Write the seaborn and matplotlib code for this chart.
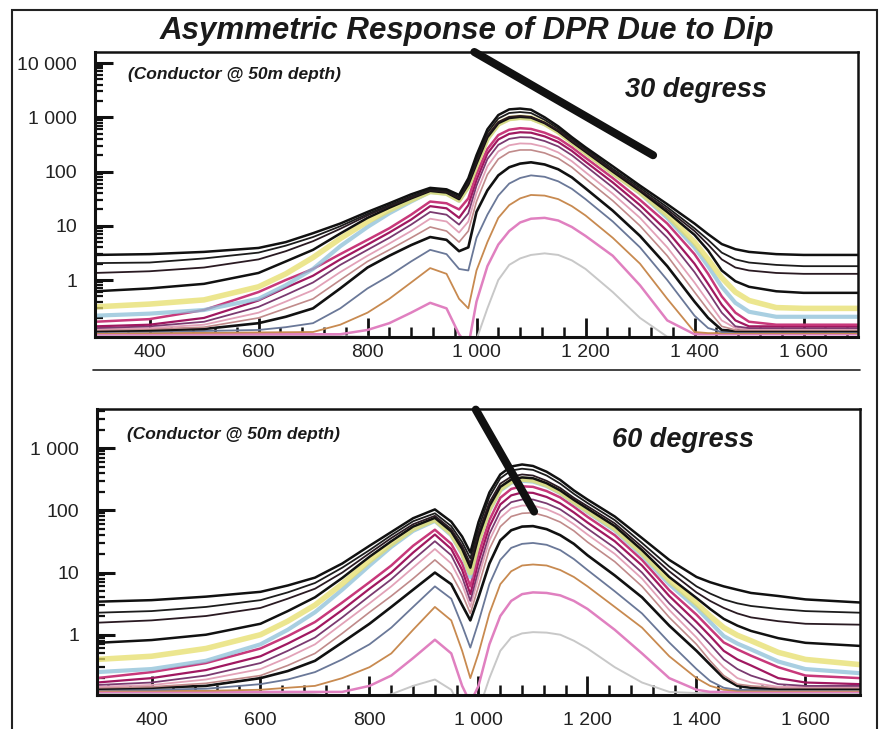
import numpy as np
import pandas as pd
import matplotlib
matplotlib.use("Agg")
import matplotlib.pyplot as plt
import seaborn as sns
from matplotlib.ticker import FixedLocator, LogLocator, MultipleLocator, FuncFormatter, NullFormatter
from matplotlib.lines import Line2D
from matplotlib.patches import Rectangle

# ---------------- data ----------------
TITLE = "Asymmetric Response of DPR Due to Dip"
NOTE = "(Conductor @ 50m depth)"
LABEL30 = "30 degress"
LABEL60 = "60 degress"

X30 = [300, 400, 500, 600, 650, 700, 750, 800, 840, 880,
       915, 945, 968, 985, 1000, 1020, 1040, 1060, 1080, 1100,
       1125, 1150, 1175, 1200, 1250, 1300, 1350, 1400, 1425, 1450,
       1475, 1500, 1550, 1600, 1700]

D30_01 = [2.9, 3.0, 3.3, 3.9, 5.0, 7.3, 11, 18, 26, 38, 50, 47, 37, 75, 200, 600, 1100, 1400, 1450, 1380, 1000, 680, 430, 280, 125, 55, 25, 11, 7.0, 4.6, 3.7, 3.3, 3.0, 2.9, 2.9]
D30_02 = [2.05, 2.1, 2.5, 3.2, 4.3, 6.2, 9.8, 16.5, 24, 35, 47, 44, 34, 68, 170, 520, 950, 1200, 1250, 1200, 900, 620, 395, 260, 112, 50, 22, 9.0, 5.5, 3.2, 2.4, 2.1, 1.9, 1.8, 1.8]
D30_03 = [1.35, 1.45, 1.7, 2.4, 3.4, 5.2, 8.8, 15.5, 23, 33, 45, 42, 32, 62, 150, 460, 820, 1020, 1060, 1020, 800, 570, 365, 242, 104, 46, 20, 8.0, 4.5, 2.4, 1.7, 1.5, 1.35, 1.3, 1.3]
D30_04 = [0.62, 0.7, 0.85, 1.35, 2.2, 3.6, 7.2, 14, 21.5, 32, 44, 41, 31, 58, 140, 430, 780, 970, 1020, 990, 785, 555, 355, 233, 100, 44, 18, 6.8, 3.5, 1.5, 0.95, 0.75, 0.62, 0.58, 0.58]
D30_05 = [0.32, 0.36, 0.43, 0.75, 1.3, 2.6, 5.8, 12, 19.5, 30, 43, 40, 30, 55, 135, 415, 760, 950, 1000, 970, 770, 545, 350, 226, 96, 42, 16, 5.0, 2.4, 1.1, 0.6, 0.42, 0.31, 0.3, 0.3]
D30_06 = [0.22, 0.24, 0.28, 0.45, 0.8, 1.6, 4.2, 9.5, 17, 28, 42, 39, 29, 52, 130, 400, 740, 930, 980, 950, 755, 535, 343, 220, 93, 40, 14, 4.0, 1.8, 0.75, 0.38, 0.26, 0.21, 0.21, 0.21]
D30_07 = [0.17, 0.19, 0.28, 0.6, 1.0, 1.6, 3.0, 5.5, 9.0, 16, 28, 26, 20, 32, 90, 260, 470, 590, 630, 610, 520, 410, 280, 180, 76, 30, 11, 3.0, 1.3, 0.5, 0.25, 0.17, 0.15, 0.15, 0.15]
D30_08 = [0.14, 0.15, 0.2, 0.42, 0.72, 1.2, 2.4, 4.5, 7.5, 13, 23, 21, 14, 24, 70, 215, 390, 495, 530, 520, 445, 350, 240, 152, 63, 24, 8.0, 2.0, 0.85, 0.35, 0.18, 0.14, 0.14, 0.14, 0.14]
D30_09 = [0.13, 0.14, 0.17, 0.32, 0.53, 0.9, 1.9, 3.6, 6.0, 10.5, 18, 16, 10.5, 17, 55, 170, 310, 400, 430, 425, 365, 290, 200, 127, 51, 19, 6.0, 1.4, 0.6, 0.25, 0.14, 0.13, 0.13, 0.13, 0.13]
D30_10 = [0.125, 0.13, 0.15, 0.25, 0.4, 0.65, 1.4, 2.8, 4.7, 8.0, 13.5, 12, 7.5, 12, 40, 125, 235, 305, 330, 325, 285, 225, 155, 97, 39, 14, 4.0, 0.9, 0.4, 0.18, 0.13, 0.125, 0.125, 0.125, 0.125]
D30_11 = [0.12, 0.125, 0.135, 0.2, 0.3, 0.45, 1.0, 2.2, 3.6, 6.0, 9.5, 8.0, 5.0, 8.0, 28, 88, 170, 228, 250, 250, 220, 175, 120, 74, 29, 10, 2.8, 0.6, 0.28, 0.14, 0.12, 0.12, 0.12, 0.12, 0.12]
D30_12 = [0.115, 0.118, 0.125, 0.16, 0.21, 0.3, 0.7, 1.7, 2.8, 4.4, 6.2, 5.5, 3.4, 4.0, 18, 45, 85, 120, 140, 148, 135, 110, 78, 49, 19, 6.5, 1.8, 0.4, 0.2, 0.12, 0.115, 0.115, 0.115, 0.115, 0.115]
D30_13 = [0.11, 0.112, 0.115, 0.12, 0.135, 0.16, 0.3, 0.7, 1.2, 2.2, 3.6, 3.0, 1.6, 1.5, 6.0, 16, 36, 60, 76, 85, 80, 66, 48, 31, 12, 4.0, 1.0, 0.22, 0.13, 0.11, 0.11, 0.11, 0.11, 0.11, 0.11]
D30_14 = [0.105, 0.105, 0.106, 0.108, 0.109, 0.11, 0.15, 0.25, 0.45, 0.9, 1.66, 1.3, 0.45, 0.3, 1.5, 5.0, 14, 24, 32, 37, 36, 31, 23, 15.5, 6.0, 2.0, 0.45, 0.11, 0.105, 0.105, 0.105, 0.105, 0.105, 0.105, 0.105]
D30_15 = [0.1, 0.1, 0.1, 0.1, 0.1, 0.1, 0.1, 0.12, 0.16, 0.25, 0.38, 0.3, 0.1, 0.06, 0.4, 1.8, 4.5, 8.0, 11.5, 13.5, 14, 12.5, 9.5, 6.5, 2.8, 0.8, 0.18, 0.1, 0.1, 0.1, 0.1, 0.1, 0.1, 0.1, 0.1]
D30_16 = [0.095, 0.095, 0.095, 0.095, 0.095, 0.095, 0.092, 0.09, 0.085, 0.08, 0.07, 0.06, 0.04, 0.03, 0.08, 0.3, 1.0, 1.9, 2.5, 2.9, 3.1, 2.9, 2.3, 1.6, 0.6, 0.2, 0.09, 0.085, 0.085, 0.085, 0.085, 0.085, 0.085, 0.085, 0.085]

X60 = [300, 400, 500, 600, 650, 700, 750, 800, 840, 880,
       920, 950, 970, 985, 1000, 1020, 1040, 1060, 1080, 1100,
       1125, 1150, 1175, 1200, 1250, 1300, 1350, 1400, 1425, 1450,
       1475, 1500, 1550, 1600, 1700]

D60_01 = [3.4, 3.6, 4.1, 4.9, 6.2, 8.3, 14, 27, 45, 75, 104, 66, 38, 21, 65, 195, 380, 510, 550, 520, 420, 310, 210, 150, 80, 36, 16, 8.5, 7.0, 6.0, 5.3, 4.7, 4.2, 3.7, 3.3]
D60_02 = [2.26, 2.4, 2.8, 3.6, 4.8, 6.8, 12, 23, 40, 67, 90, 56, 31, 17, 52, 165, 330, 440, 470, 450, 365, 270, 185, 132, 70, 30, 12.5, 6.0, 4.6, 3.7, 3.2, 2.9, 2.6, 2.4, 2.26]
D60_03 = [1.56, 1.7, 2.0, 2.7, 3.8, 5.5, 10, 20.5, 36, 60, 82, 50, 27, 14, 44, 135, 270, 350, 380, 365, 300, 230, 160, 117, 62, 26, 10.5, 4.8, 3.5, 2.7, 2.2, 1.9, 1.65, 1.5, 1.45]
D60_04 = [0.74, 0.82, 1.0, 1.5, 2.4, 4.0, 8.2, 18, 32, 55, 76, 46, 24, 12, 38, 118, 240, 315, 340, 330, 275, 210, 148, 107, 56, 23, 8.5, 3.9, 2.6, 1.8, 1.4, 1.15, 0.88, 0.74, 0.66]
D60_05 = [0.40, 0.45, 0.6, 1.0, 1.65, 3.0, 6.6, 15.5, 29, 51, 72, 43, 22, 10, 34, 108, 225, 295, 320, 310, 260, 200, 140, 100, 52, 21, 7.5, 3.2, 2.0, 1.3, 0.98, 0.8, 0.52, 0.4, 0.33]
D60_06 = [0.25, 0.28, 0.38, 0.7, 1.2, 2.3, 5.3, 13, 26, 47, 68, 40, 20, 8.5, 31, 100, 210, 280, 300, 292, 248, 190, 133, 94, 48, 19, 6.5, 2.7, 1.6, 0.95, 0.72, 0.58, 0.37, 0.28, 0.24]
D60_07 = [0.2, 0.25, 0.35, 0.6, 0.95, 1.6, 3.3, 7.0, 13, 27, 49, 29, 14, 6.0, 20, 70, 160, 222, 245, 240, 205, 162, 115, 79, 40, 16, 5.2, 2.1, 1.25, 0.75, 0.58, 0.46, 0.3, 0.22, 0.2]
D60_08 = [0.17, 0.2, 0.27, 0.45, 0.72, 1.2, 2.5, 5.5, 10, 21, 41, 24, 11, 4.5, 15, 55, 125, 175, 195, 192, 165, 130, 93, 64, 32, 13, 4.2, 1.6, 0.95, 0.55, 0.4, 0.32, 0.2, 0.17, 0.16]
D60_09 = [0.155, 0.17, 0.22, 0.35, 0.55, 0.9, 1.9, 4.2, 7.8, 16, 32, 19, 8.5, 3.5, 11, 42, 97, 136, 150, 150, 130, 104, 74, 51, 25, 10, 3.2, 1.2, 0.7, 0.4, 0.28, 0.22, 0.16, 0.15, 0.15]
D60_10 = [0.145, 0.155, 0.19, 0.28, 0.43, 0.7, 1.5, 3.2, 6.0, 12, 24, 14, 6.5, 2.8, 8.5, 33, 76, 108, 120, 120, 105, 84, 60, 41, 20, 8.0, 2.5, 0.9, 0.5, 0.3, 0.2, 0.17, 0.145, 0.145, 0.145]
D60_11 = [0.14, 0.145, 0.165, 0.22, 0.32, 0.5, 1.05, 2.3, 4.2, 8.0, 16, 9.5, 4.5, 2.2, 6.0, 24, 55, 80, 90, 92, 80, 65, 47, 31, 15, 6.0, 1.9, 0.7, 0.38, 0.22, 0.16, 0.15, 0.14, 0.14, 0.14]
D60_12 = [0.135, 0.14, 0.15, 0.2, 0.26, 0.38, 0.75, 1.5, 2.8, 5.3, 10, 6.5, 3.0, 1.7, 4.0, 14, 33, 48, 55, 56, 50, 40, 29, 19, 9.0, 4.0, 1.4, 0.55, 0.33, 0.2, 0.15, 0.14, 0.135, 0.135, 0.135]
D60_13 = [0.13, 0.13, 0.135, 0.16, 0.19, 0.25, 0.4, 0.7, 1.3, 2.8, 6.0, 3.8, 1.4, 0.62, 1.6, 6.5, 16, 25, 29, 30, 28, 23, 16.5, 11, 5.0, 2.2, 0.75, 0.28, 0.18, 0.14, 0.13, 0.13, 0.13, 0.13, 0.13]
D60_14 = [0.125, 0.125, 0.125, 0.13, 0.14, 0.15, 0.2, 0.3, 0.5, 1.2, 2.8, 1.7, 0.55, 0.2, 0.5, 2.2, 6.5, 10.5, 13, 13.5, 13, 11, 8.5, 6.0, 2.8, 1.3, 0.45, 0.2, 0.15, 0.13, 0.125, 0.125, 0.125, 0.125, 0.125]
D60_15 = [0.12, 0.12, 0.12, 0.12, 0.12, 0.12, 0.12, 0.15, 0.22, 0.42, 0.83, 0.5, 0.15, 0.08, 0.15, 0.7, 2.0, 3.5, 4.5, 4.8, 4.7, 4.3, 3.5, 2.6, 1.2, 0.5, 0.2, 0.13, 0.12, 0.12, 0.12, 0.12, 0.12, 0.12, 0.12]
D60_16 = [0.115, 0.115, 0.115, 0.115, 0.115, 0.11, 0.1, 0.1, 0.11, 0.15, 0.19, 0.13, 0.06, 0.04, 0.06, 0.2, 0.55, 0.9, 1.05, 1.1, 1.08, 1.0, 0.8, 0.6, 0.3, 0.17, 0.12, 0.115, 0.115, 0.115, 0.115, 0.115, 0.115, 0.115, 0.115]

CURVES30 = [D30_01, D30_02, D30_03, D30_04, D30_05, D30_06, D30_07, D30_08,
            D30_09, D30_10, D30_11, D30_12, D30_13, D30_14, D30_15, D30_16]
CURVES60 = [D60_01, D60_02, D60_03, D60_04, D60_05, D60_06, D60_07, D60_08,
            D60_09, D60_10, D60_11, D60_12, D60_13, D60_14, D60_15, D60_16]

COLORS = ['#111111', '#1c1c1c', '#2a1a22', '#111111', '#e6de6a', '#8cc0d8',
          '#c8387a', '#a01860', '#7a3a70', '#e2a2b8', '#c08a8a', '#111111',
          '#6a7898', '#c88a50', '#e080c0', '#c8c8c8']
WIDTHS = [1.8, 1.3, 1.3, 1.8, 4.0, 3.0, 1.8, 1.6, 1.3, 1.3, 1.2, 1.9, 1.3, 1.3, 1.8, 1.4]
ALPHAS = [1, 1, 1, 1, 0.75, 0.75, 1, 1, 1, 1, 1, 1, 1, 1, 1, 1]

YTICKS = [1, 10, 100, 1000, 10000]

# pointer lines (data coordinates)
PTR30_X = [996, 1324]
PTR30_Y = [16000, 200]
PTR60_X = [995, 1102]
PTR60_Y = [4200, 96]

# ---------------- style ----------------
sns.set_style("white")
plt.rcParams['font.family'] = ['Liberation Sans', 'DejaVu Sans']

fig = plt.figure(figsize=(8.87, 7.29), dpi=100)
W, H = 887.0, 729.0
ax1 = fig.add_axes([95 / W, 1 - 337 / H, 763 / W, 285 / H])
ax2 = fig.add_axes([97 / W, 1 - 695 / H, 763 / W, 286 / H])


def fmt(v, pos):
    if v < 1:
        return ""
    return f"{int(round(v)):,}".replace(",", " ")


def draw(ax, X, curves, ylim, xpad):
    frames = []
    for i, c in enumerate(curves):
        frames.append(pd.DataFrame({"x": X, "y": c, "ch": i}))
    df = pd.concat(frames)
    for i in reversed(range(len(curves))):
        sub = df[df["ch"] == i]
        sns.lineplot(data=sub, x="x", y="y", ax=ax, color=COLORS[i], lw=WIDTHS[i],
                     alpha=ALPHAS[i], legend=False, sort=False, estimator=None,
                     solid_joinstyle="round")
    ax.set_yscale("log")
    ax.set_xlim(300, 1700)
    ax.set_ylim(*ylim)
    ax.set_xlabel("")
    ax.set_ylabel("")
    ax.yaxis.set_major_locator(FixedLocator(YTICKS))
    ax.yaxis.set_minor_locator(LogLocator(base=10, subs=np.arange(2, 10), numticks=30))
    ax.yaxis.set_major_formatter(FuncFormatter(fmt))
    ax.yaxis.set_minor_formatter(NullFormatter())
    ax.xaxis.set_major_locator(MultipleLocator(200))
    ax.xaxis.set_minor_locator(MultipleLocator(40))
    ax.xaxis.set_major_formatter(FuncFormatter(fmt))
    ax.tick_params(axis="y", which="major", direction="in", length=13, width=2.2,
                   labelsize=14, pad=13, left=True, colors="#111", labelcolor="#222")
    ax.tick_params(axis="y", which="minor", direction="in", length=6, width=1.6, left=True,
                   colors="#111")
    ax.tick_params(axis="x", which="major", direction="in", length=14, width=2.0,
                   labelsize=14, pad=xpad, bottom=True, colors="#111", labelcolor="#222")
    ax.tick_params(axis="x", which="minor", direction="in", length=7, width=1.8,
                   bottom=True, colors="#111")
    for s in ["left", "bottom"]:
        ax.spines[s].set_linewidth(2.2)
        ax.spines[s].set_color("#111")
    for s in ["top", "right"]:
        ax.spines[s].set_linewidth(1.8)
        ax.spines[s].set_color("#111")


draw(ax1, X30, CURVES30, (0.089, 16000), 5)
draw(ax2, X60, CURVES60, (0.107, 4300), 12)

ax1.plot(PTR30_X, PTR30_Y, color="#111", lw=5.8, solid_capstyle="round",
         clip_on=False, zorder=10)
ax2.plot(PTR60_X, PTR60_Y, color="#111", lw=5.8, solid_capstyle="round",
         clip_on=False, zorder=10)

fig.text(467 / W, 1 - 31 / H, TITLE, ha="center", va="center", fontsize=22.5,
         fontweight="bold", fontstyle="italic", color="#1a1a1a")
fig.text(128 / W, 1 - 75 / H, NOTE, ha="left", va="center", fontsize=12.5,
         fontweight="bold", fontstyle="italic", color="#1a1a1a")
fig.text(127 / W, 1 - 435 / H, NOTE, ha="left", va="center", fontsize=12.5,
         fontweight="bold", fontstyle="italic", color="#1a1a1a")
fig.text(625 / W, 1 - 90 / H, LABEL30, ha="left", va="center", fontsize=19.5,
         fontweight="bold", fontstyle="italic", color="#1a1a1a")
fig.text(612 / W, 1 - 440 / H, LABEL60, ha="left", va="center", fontsize=19.5,
         fontweight="bold", fontstyle="italic", color="#1a1a1a")

fig.add_artist(Line2D([93 / W, 860 / W], [1 - 370 / H, 1 - 370 / H],
                      transform=fig.transFigure, color="#222", lw=1.2))
fig.add_artist(Rectangle((12 / W, -0.05), (877 - 12) / W, 1.05 - 10 / H, fill=False,
                         lw=1.5, ec="#222", transform=fig.transFigure))

fig.savefig("out.png", dpi=100)
